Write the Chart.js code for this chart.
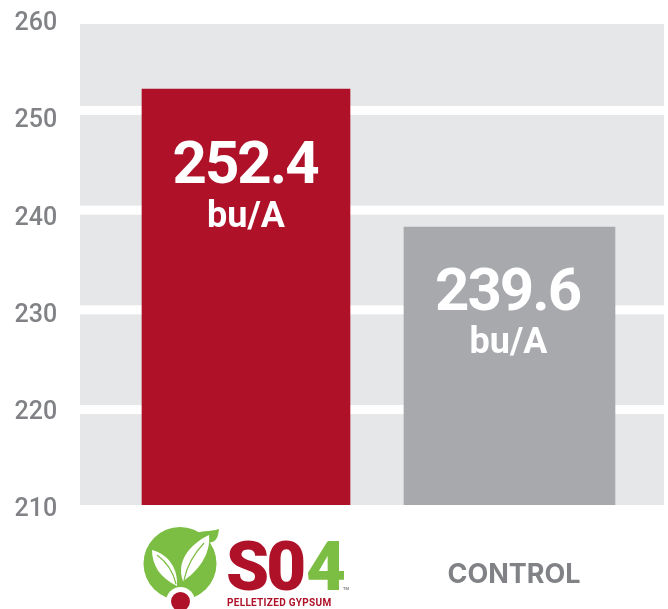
<!DOCTYPE html>
<html>
<head>
<meta charset="utf-8">
<style>
  html, body { margin: 0; padding: 0; background: #fff; }
  canvas { display: block; }
</style>
<script src="https://cdn.jsdelivr.net/npm/chart.js@4"></script>
</head>
<body>
<canvas id="myChart" width="668" height="609"></canvas>
<script>
var categories = ['S04 PELLETIZED GYPSUM', 'CONTROL'];
var s04Values = [252.4, null];
var controlValues = [null, 239.6];
var barLabels = ['252.4', '239.6'];
var unitLabel = 'bu/A';
var tickValues = [210, 220, 230, 240, 250, 260];
var gridValues = [220, 230, 240, 250];

var RED = '#ae1128', GREY_BAR = '#a7a9ac', BAND = '#e6e7e8', TEXT = '#808285', GREEN = '#7cbd43';

function setTicks(values) {
    return function(scale) {
        scale.ticks = values.map(function(v) { return { value: v }; });
    };
}

// grey band behind the bars, white gaps come from the grid axis
var bandPlugin = {
    id: 'band',
    beforeDatasetsDraw: function(chart) {
        var ctx = chart.ctx, area = chart.chartArea, yGrid = chart.scales.yGrid;
        ctx.save();
        ctx.fillStyle = BAND;
        ctx.fillRect(80, area.top, 584, area.bottom - area.top);
        ctx.fillStyle = '#fff';
        gridValues.forEach(function(v) {
            ctx.fillRect(80, yGrid.getPixelForValue(v) - 4.5, 584, 9);
        });
        ctx.restore();
    }
};

var labelPlugin = {
    id: 'barText',
    afterDatasetsDraw: function(chart) {
        var ctx = chart.ctx;
        var valueDrop = [94, 83], unitDrop = [138, 126];
        ctx.save();
        ctx.fillStyle = '#fff';
        ctx.textAlign = 'center';
        ctx.textBaseline = 'alphabetic';
        [0, 1].forEach(function(i) {
            var bar = chart.getDatasetMeta(i).data[i];
            ctx.font = '700 60px Roboto';
            ctx.letterSpacing = '-2px';
            ctx.fillText(barLabels[i], bar.x - 1 - i, bar.y + valueDrop[i]);
            ctx.font = '700 36px Roboto';
            ctx.letterSpacing = '0px';
            ctx.fillText(unitLabel, bar.x - i, bar.y + unitDrop[i]);
        });
        ctx.restore();
    }
};

function drawLeaf(ctx, x0, y0, c1x, c1y, c2x, c2y, x1, y1, c3x, c3y, c4x, c4y) {
    ctx.beginPath();
    ctx.moveTo(x0, y0);
    ctx.bezierCurveTo(c1x, c1y, c2x, c2y, x1, y1);
    ctx.bezierCurveTo(c3x, c3y, c4x, c4y, x0, y0);
    ctx.fill();
}

var logoPlugin = {
    id: 'logo',
    afterDraw: function(chart) {
        var ctx = chart.ctx;
        ctx.save();
        // green disc + leaf tip
        ctx.fillStyle = GREEN;
        ctx.beginPath();
        ctx.arc(180, 563.5, 36.5, 0, Math.PI * 2);
        ctx.fill();
        drawLeaf(ctx, 190, 535, 200, 530, 210, 532, 219, 529, 218, 540, 214, 550);
        // white leaves
        ctx.fillStyle = '#fff';
        drawLeaf(ctx, 183, 581, 176, 563, 188, 545, 209, 535, 211, 555, 197, 572);
        drawLeaf(ctx, 177, 586, 178, 570, 170, 555, 152, 550, 152, 565, 160, 578);
        ctx.strokeStyle = GREEN;
        ctx.lineWidth = 1.2;
        ctx.beginPath();
        ctx.moveTo(184, 580);
        ctx.quadraticCurveTo(188, 560, 204, 543);
        ctx.moveTo(176, 584);
        ctx.quadraticCurveTo(172, 566, 157, 555);
        ctx.stroke();
        // seed
        ctx.fillStyle = '#fff';
        ctx.beginPath();
        ctx.arc(180.5, 601.5, 14.5, 0, Math.PI * 2);
        ctx.fill();
        ctx.fillStyle = RED;
        ctx.beginPath();
        ctx.arc(180.5, 601.5, 9.5, 0, Math.PI * 2);
        ctx.fill();
        // wordmark
        ctx.textAlign = 'left';
        ctx.textBaseline = 'alphabetic';
        ctx.font = '900 69px Roboto';
        ctx.letterSpacing = '-3px';
        ctx.fillStyle = RED;
        ctx.fillText('S0', 226, 590);
        ctx.fillStyle = GREEN;
        ctx.letterSpacing = '0px';
        ctx.fillText('4', 306, 590);
        ctx.fillStyle = RED;
        ctx.font = '700 10px Roboto';
        ctx.letterSpacing = '0.3px';
        ctx.fillText('PELLETIZED GYPSUM', 227, 606);
        ctx.fillStyle = TEXT;
        ctx.font = '700 4px Roboto';
        ctx.letterSpacing = '0px';
        ctx.fillText('TM', 343, 590);
        ctx.restore();
    }
};

var chart = new Chart(document.getElementById('myChart').getContext('2d'), {
    type: 'bar',
    data: {
        labels: categories,
        datasets: [
            { label: 'S04', data: s04Values, backgroundColor: RED, yAxisID: 'yBars', barThickness: 208 },
            { label: 'CONTROL', data: controlValues, backgroundColor: GREY_BAR, yAxisID: 'yBars', barThickness: 211 }
        ]
    },
    options: {
        responsive: false,
        animation: false,
        events: [],
        grouped: false,
        layout: { padding: { top: 24, right: 26.75, left: 0, bottom: 0 } },
        plugins: { legend: { display: false }, title: { display: false }, tooltip: { enabled: false } },
        scales: {
            x: {
                grid: { display: false },
                border: { display: false },
                afterFit: function(scale) {
                    scale.height = 104;
                    scale.paddingLeft = 0;
                    scale.paddingRight = 0;
                },
                ticks: {
                    padding: 46,
                    labelOffset: 4.5,
                    color: TEXT,
                    maxRotation: 0,
                    font: { family: 'Inter', size: 27, weight: 700 },
                    callback: function(value, index) {
                        return index === 0 ? '' : this.getLabelForValue(value);
                    }
                }
            },
            // printed axis
            y: {
                position: 'left',
                min: 210.5,
                max: 260,
                grid: { display: false },
                border: { display: false },
                afterFit: function(scale) {
                    scale.width = 114.25;
                    scale.paddingTop = 0;
                    scale.paddingBottom = 0;
                },
                afterBuildTicks: setTicks(tickValues),
                ticks: {
                    padding: 49,
                    color: TEXT,
                    autoSkip: false,
                    font: { family: 'Roboto', size: 25, weight: 500 }
                }
            },
            yBars: { display: false, min: 213.81, max: 258.43 },
            yGrid: { display: false, min: 210.42, max: 258.68 }
        }
    },
    plugins: [bandPlugin, labelPlugin, logoPlugin]
});
</script>
</body>
</html>
